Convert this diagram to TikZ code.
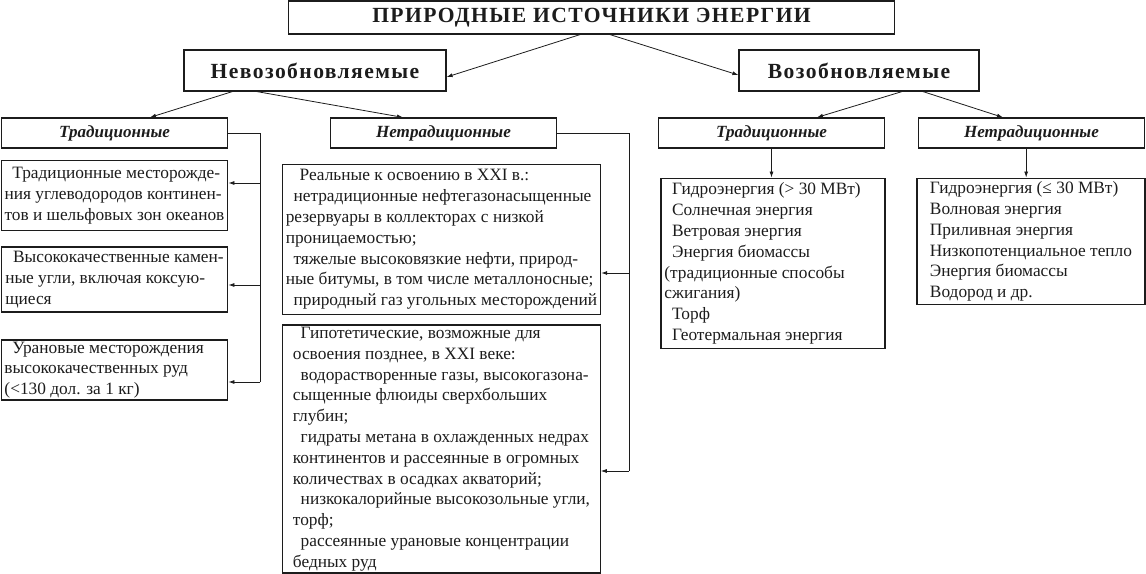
\documentclass[tikz,border=0pt]{standalone}
\usepackage{fontspec}
\setmainfont{Liberation Serif}
\usetikzlibrary{arrows.meta}
\definecolor{ink}{RGB}{28,28,28}

\begin{document}
\begin{tikzpicture}[x=0.75pt, y=-0.75pt,
    box/.style={draw=ink, line width=0.9pt, inner xsep=2.5pt, inner ysep=1pt, text=ink},
    head/.style={box, font=\fontsize{16.2}{19}\selectfont\bfseries\addfontfeature{LetterSpace=6.5}},
    kind/.style={box, minimum width=170pt, minimum height=22.5pt,
      font=\fontsize{12.8}{15}\selectfont\bfseries\itshape},
    body/.style={box, align=flush left, font=\fontsize{13}{15.6}\selectfont},
    link/.style={-{Latex[length=4.5pt,width=3pt]}, draw=ink, line width=0.6pt},
    spine/.style={draw=ink, line width=0.6pt}]
  \useasboundingbox (0,0) rectangle (1146,574);
  \def\ind{\hspace*{0.45em}}

  % ---- top of the tree ---------------------------------------------------
  \node[head, minimum width=455pt, minimum height=24.75pt] (title) at (591.5,17.5)
    {ПРИРОДНЫЕ ИСТОЧНИКИ ЭНЕРГИИ};
  \node[head, minimum width=196.5pt, minimum height=30.75pt] (nonren) at (315,70.5)
    {Невозобновляемые};
  \node[head, minimum width=180pt, minimum height=30.75pt] (ren) at (859,70.5)
    {Возобновляемые};
  \draw[link] ([xshift=-8.6pt]title.south) -- ([yshift=-4.9pt]nonren.east);
  \draw[link] ([xshift=13.9pt]title.south) -- ([yshift=-3.4pt]ren.west);

  % ---- four kinds ---------------------------------------------------------
  \node[kind] (tradL) at (114.5,133) {Традиционные};
  \node[kind] (nontradL) at (443.5,133) {Нетрадиционные};
  \node[kind] (tradR) at (771.5,133) {Традиционные};
  \node[kind] (nontradR) at (1031.5,133) {Нетрадиционные};
  \draw[link] ([xshift=-62pt]nonren.south) -- ([xshift=26.6pt]tradL.north);
  \draw[link] ([xshift=-43.5pt]nonren.south) -- ([xshift=-30.4pt]nontradL.north);
  \draw[link] ([xshift=32.2pt]ren.south) -- ([xshift=34.1pt]tradR.north);
  \draw[link] ([xshift=48pt]ren.south) -- ([xshift=-21.4pt]nontradR.north);

  % ---- non-renewable, traditional ----------------------------------------
  \node[body, minimum width=170pt, minimum height=53pt] (oilgas) at (114.5,195.5)
    {\ind Традиционные месторожде-\\ния углеводородов континен-\\тов и шельфовых зон океанов};
  \node[body, minimum width=170pt, minimum height=48.75pt] (coal) at (114.5,279.5)
    {\ind Высококачественные камен-\\ные угли, включая коксую-\\щиеся};
  \node[body, text width=165pt, minimum height=45pt] (uran) at (114.5,370)
    {\ind Урановые месторождения\\высококачественных руд\\(<130 дол. за 1 кг)};
  \coordinate (jL1) at (260,183);
  \coordinate (jL2) at (260,285);
  \coordinate (jL3) at (260,382);
  \draw[spine] (tradL.east) -| (jL3);
  \foreach \j/\b in {jL1/oilgas, jL2/coal, jL3/uran}
    \draw[link] (\j) -- (\j -| \b.east);

  % ---- non-renewable, non-traditional ------------------------------------
  \node[body, minimum width=238pt, minimum height=112pt] (real) at (441.5,239.5)
    {\hspace*{0.8em}Реальные к освоению в XXI в.:\\
     \ind нетрадиционные нефтегазонасыщенные\\
     резервуары в коллекторах с низкой\\
     проницаемостью;\\
     \ind тяжелые высоковязкие нефти, природ-\\
     ные битумы, в том числе металлоносные;\\
     \ind природный газ угольных месторождений};
  \node[body, minimum width=238pt, minimum height=186pt] (hypo) at (441.5,449)
    {\ind Гипотетические, возможные для\\
     освоения позднее, в XXI веке:\\
     \ind водорастворенные газы, высокогазона-\\
     сыщенные флюиды сверхбольших\\
     глубин;\\
     \ind гидраты метана в охлажденных недрах\\
     континентов и рассеянные в огромных\\
     количествах в осадках акваторий;\\
     \ind низкокалорийные высокозольные угли,\\
     торф;\\
     \ind рассеянные урановые концентрации\\
     бедных руд};
  \coordinate (jM1) at (629,273);
  \coordinate (jM2) at (629,471);
  \draw[spine] (nontradL.east) -| (jM2);
  \foreach \j/\b in {jM1/real, jM2/hypo}
    \draw[link] (\j) -- (\j -| \b.east);

  % ---- renewable ----------------------------------------------------------
  \node[body, text width=163pt, minimum height=128pt] (trbox) at (773,263.5)
    {\ind Гидроэнергия (> 30 МВт)\\
     \ind Солнечная энергия\\
     \ind Ветровая энергия\\
     \ind Энергия биомассы\\
     (традиционные способы\\
     сжигания)\\
     \ind Торф\\
     \ind Геотермальная энергия};
  \node[body, minimum width=171pt, minimum height=95pt] (ntrbox) at (1031,241.5)
    {Гидроэнергия (≤ 30 МВт)\\
     Волновая энергия\\
     Приливная энергия\\
     Низкопотенциальное тепло\\
     Энергия биомассы\\
     Водород и др.};
  \draw[link] (tradR.south) -- (tradR.south |- trbox.north);
  \draw[link] ([xshift=-4pt]nontradR.south) -- ([xshift=-4pt]nontradR.south |- ntrbox.north);
\end{tikzpicture}
\end{document}
